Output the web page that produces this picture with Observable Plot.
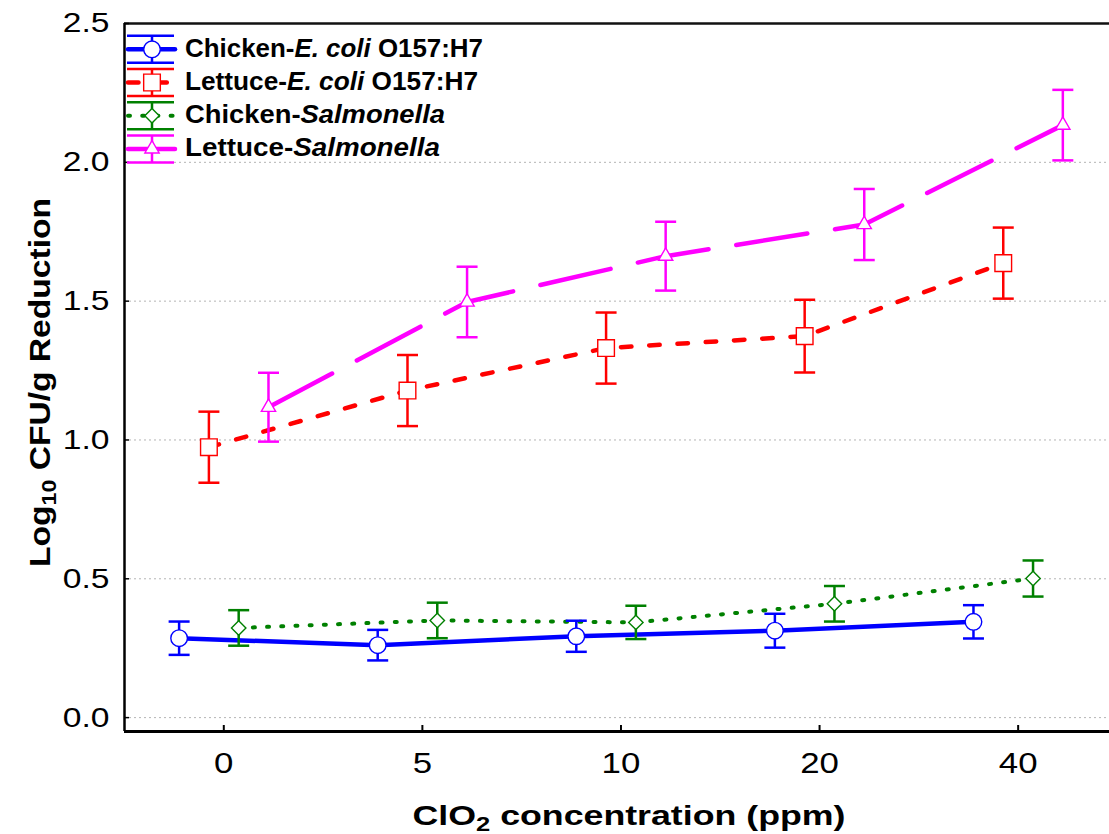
<!DOCTYPE html>
<html><head><meta charset="utf-8">
<script src="https://cdn.jsdelivr.net/npm/d3@7"></script>
<script src="https://cdn.jsdelivr.net/npm/@observablehq/plot@0.6"></script>
<style>
body{margin:0;background:#fff;}
#chart{position:relative;width:1109px;height:834px;overflow:hidden;font-family:"Liberation Sans",Arial,sans-serif;}
#chart svg{position:absolute;left:0;top:0;}
</style></head><body><div id="chart"></div>
<script>
// ---- data ----
const concentrations = ["0", "5", "10", "20", "40"];
const seriesHost = ["Chicken", "Lettuce", "Chicken", "Lettuce"];
const seriesPathogen = ["E. coli", "E. coli", "Salmonella", "Salmonella"];
const seriesStrain = [" O157:H7", " O157:H7", "", ""];
const chickenEcoliMean = [0.286, 0.261, 0.293, 0.313, 0.345];
const chickenEcoliErr  = [0.060, 0.055, 0.056, 0.061, 0.060];
const lettuceEcoliMean = [0.974, 1.178, 1.331, 1.374, 1.637];
const lettuceEcoliErr  = [0.128, 0.128, 0.128, 0.131, 0.128];
const chickenSalmMean  = [0.323, 0.350, 0.343, 0.410, 0.501];
const chickenSalmErr   = [0.064, 0.064, 0.060, 0.064, 0.065];
const lettuceSalmMean  = [1.118, 1.497, 1.662, 1.776, 2.134];
const lettuceSalmErr   = [0.124, 0.127, 0.124, 0.128, 0.127];
const yTicks = [0, 0.5, 1.0, 1.5, 2.0, 2.5];

const means = [chickenEcoliMean, lettuceEcoliMean, chickenSalmMean, lettuceSalmMean];
const errs = [chickenEcoliErr, lettuceEcoliErr, chickenSalmErr, lettuceSalmErr];

// ---- styles ----
const colors = ["#0000ff", "#ff0000", "#008000", "#ff00ff"];
const dashes = [null, "10.5,17.8", "2,12.2", "72,28"];
const lineWidths = [4.5, 4.5, 4, 4.5];
const symbols = ["circle", "square", "diamond2", "triangle"];
const symbolR = [8.3, 9.4, 6.5, 5.3];
const legendTextLen = [298, 293, 260, 255];
const dodge = 0.15;
const xDomain = [-0.5, 4.46];
const yDomain = [-0.05, 2.5];
const font = '"Liberation Sans", Arial, sans-serif';

const capSymbol = {draw(ctx, size) { const w = Math.sqrt(size) / 2; ctx.moveTo(-w, 0); ctx.lineTo(w, 0); }};
const capR = 21 / Math.sqrt(Math.PI);

const rows = [];
means.forEach((m, k) => m.forEach((v, i) => rows.push({
  k, cat: i, x: i + (k - 1.5) * dodge, y: v, lo: v - errs[k][i], hi: v + errs[k][i]
})));

const marks = [
  Plot.gridY(yTicks.slice(0, -1), {stroke: "#b4b4b4", strokeOpacity: 1, strokeWidth: 1, strokeDasharray: "2,3"}),
  Plot.ruleY([yDomain[1]], {stroke: "#111", strokeWidth: 2.5}),
  Plot.ruleX([xDomain[0]], {stroke: "#000", strokeWidth: 2.5}),
  Plot.ruleY([yDomain[0]], {stroke: "#000", strokeWidth: 3})
];
means.forEach((m, k) => {
  const d = rows.filter(r => r.k === k);
  marks.push(Plot.line(d, {x: "x", y: "y", stroke: colors[k], strokeWidth: lineWidths[k],
    strokeDasharray: dashes[k], strokeLinecap: "round", strokeLinejoin: "round"}));
});
means.forEach((m, k) => {
  const d = rows.filter(r => r.k === k);
  marks.push(Plot.ruleX(d, {x: "x", y1: "lo", y2: "hi", stroke: colors[k], strokeWidth: 2.5}));
  marks.push(Plot.dot(d, {x: "x", y: "lo", symbol: capSymbol, r: capR, stroke: colors[k], strokeWidth: 2.5, fill: "none"}));
  marks.push(Plot.dot(d, {x: "x", y: "hi", symbol: capSymbol, r: capR, stroke: colors[k], strokeWidth: 2.5, fill: "none"}));
  marks.push(Plot.dot(d, {x: "x", y: "y", symbol: symbols[k], r: symbolR[k], stroke: colors[k], strokeWidth: 1.4, fill: "white"}));
});
marks.push(Plot.axisY({ticks: yTicks, tickFormat: d3.format(".1f"), tickSize: -5, tickPadding: 20,
  fontSize: 28, strokeWidth: 1.5, color: "#000", label: null}));
marks.push(Plot.axisX({ticks: [0, 1, 2, 3, 4], tickFormat: i => concentrations[i], tickSize: -6, tickPadding: 27,
  fontSize: 29, strokeWidth: 2, color: "#000", label: null}));

const plot = Plot.plot({
  width: 1109, height: 834,
  marginLeft: 124, marginRight: 0, marginTop: 23, marginBottom: 103,
  x: {domain: xDomain, label: null},
  y: {domain: yDomain, label: null},
  style: {fontFamily: font, background: "transparent", overflow: "visible", color: "#000"},
  marks
});
const chart = document.getElementById("chart");
chart.appendChild(plot);

// stretch tick labels slightly to match the reference's wide glyphs
plot.querySelectorAll('g[aria-label="x-axis tick label"] text, g[aria-label="y-axis tick label"] text').forEach(t => {
  const L = t.getComputedTextLength();
  t.setAttribute("textLength", L * 1.2);
  t.setAttribute("lengthAdjust", "spacingAndGlyphs");
});

// ---- overlay: titles and legend ----
const ov = d3.select(chart).append("svg").attr("width", 1109).attr("height", 834)
  .style("pointer-events", "none").style("font-family", font);

function fit(sel, len) {
  sel.attr("textLength", len).attr("lengthAdjust", "spacingAndGlyphs");
}

const xt = ov.append("text").attr("x", 629).attr("y", 825).attr("text-anchor", "middle")
  .attr("font-size", 28).attr("font-weight", "bold").attr("fill", "#000");
xt.append("tspan").text("ClO");
xt.append("tspan").attr("font-size", 20).attr("dy", 6).text("2");
xt.append("tspan").attr("dy", -6).text(" concentration (ppm)");
fit(xt, 433);

const yt = ov.append("text").attr("transform", "translate(50,382.5) rotate(-90)").attr("text-anchor", "middle")
  .attr("font-size", 29).attr("font-weight", "bold").attr("fill", "#000");
yt.append("tspan").text("Log");
yt.append("tspan").attr("font-size", 20).attr("dy", 6).text("10");
yt.append("tspan").attr("dy", -6).text(" CFU/g Reduction");
fit(yt, 369);

const symMap = {circle: d3.symbolCircle, square: d3.symbolSquare, diamond2: d3.symbolDiamond2, triangle: d3.symbolTriangle};
seriesHost.forEach((host, k) => {
  const cy = 49.3 + k * 33.2;
  const g = ov.append("g");
  g.append("line").attr("x1", 128).attr("x2", 175).attr("y1", cy).attr("y2", cy)
    .attr("stroke", colors[k]).attr("stroke-width", lineWidths[k]).attr("stroke-linecap", "round")
    .attr("stroke-dasharray", k === 3 ? null : dashes[k]);
  g.append("line").attr("x1", 152).attr("x2", 152).attr("y1", cy - 13.5).attr("y2", cy + 13.5)
    .attr("stroke", colors[k]).attr("stroke-width", 2.5);
  [cy - 13.5, cy + 13.5].forEach(yy => g.append("line").attr("x1", 127).attr("x2", 174)
    .attr("y1", yy).attr("y2", yy).attr("stroke", colors[k]).attr("stroke-width", 2.5));
  g.append("path").attr("transform", `translate(152,${cy})`)
    .attr("d", d3.symbol(symMap[symbols[k]], Math.PI * symbolR[k] * symbolR[k])())
    .attr("fill", "white").attr("stroke", colors[k]).attr("stroke-width", 1.4);
  const t = ov.append("text").attr("x", 185).attr("y", cy + 7.5).attr("font-size", 25)
    .attr("font-weight", "bold").attr("fill", "#000");
  t.append("tspan").text(host + "-");
  t.append("tspan").attr("font-style", "italic").text(seriesPathogen[k]);
  if (seriesStrain[k]) t.append("tspan").text(seriesStrain[k]);
  fit(t, legendTextLen[k]);
});
</script></body></html>
